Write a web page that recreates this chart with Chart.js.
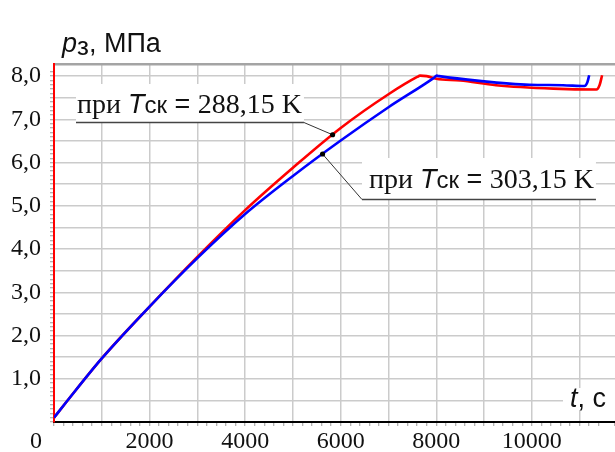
<!DOCTYPE html>
<html>
<head>
<meta charset="utf-8">
<script src="https://cdn.jsdelivr.net/npm/chart.js@4.4.0/dist/chart.umd.min.js"></script>
<style>
html, body { margin: 0; padding: 0; background: #fff; }
#wrap { width: 615px; height: 452px; }
</style>
</head>
<body>
<div id="wrap"><canvas id="pressureChart" width="615" height="452"></canvas></div>
<script>
// t, s  /  p, MPa
var T_288 = [0, 250, 1000, 2000, 3000, 4000, 5000, 6000, 7000, 7600, 7660, 7800, 8000, 8500, 9250, 10450, 11350, 11420, 11470];
var P_288 = [0.10, 0.45, 1.47, 2.67, 3.82, 4.90, 5.88, 6.80, 7.58, 7.98, 8.01, 8.00, 7.94, 7.90, 7.79, 7.71, 7.69, 7.80, 8.02];

var T_303 = [0, 250, 1000, 2000, 3000, 4000, 5000, 6000, 7000, 7950, 8010, 8060, 8900, 9950, 10650, 11100, 11160, 11200];
var P_303 = [0.10, 0.45, 1.47, 2.67, 3.79, 4.81, 5.69, 6.51, 7.28, 7.96, 8.01, 8.00, 7.89, 7.80, 7.79, 7.77, 7.85, 8.02];

var Y_TICK_LABELS = ['1,0', '2,0', '3,0', '4,0', '5,0', '6,0', '7,0', '8,0'];
var X_TICK_LABELS = ['2000', '4000', '6000', '8000', '10000'];

// times where the callouts touch the curves (288,15 K then 303,15 K)
var CALLOUT_T = [5830, 5620];

var GRID = '#cbcbcb';
var SERIF = '"Liberation Serif", "Times New Roman", serif';
var SANS = '"Liberation Sans", Arial, sans-serif';

function toPoints(ts, ps) {
    return ts.map(function (t, i) { return { x: t, y: ps[i] }; });
}

function valueAt(ts, ps, t) {
    for (var i = 1; i < ts.length; i++) {
        if (t <= ts[i]) return ps[i - 1] + (ps[i] - ps[i - 1]) * (t - ts[i - 1]) / (ts[i] - ts[i - 1]);
    }
    return ps[ps.length - 1];
}

function isStep(v, step) {
    var k = v / step;
    return Math.abs(k - Math.round(k)) < 1e-6;
}

function drawRuns(ctx, x, y, runs) {
    runs.forEach(function (r) {
        ctx.font = r[1];
        ctx.fillText(r[0], x, y + (r[2] || 0));
        x += ctx.measureText(r[0]).width;
    });
    return x;
}

var overlay = {
    id: 'overlay',
    afterDraw: function (chart) {
        var ctx = chart.ctx;
        var xs = chart.scales.x, ys = chart.scales.y;
        ctx.save();
        ctx.fillStyle = '#111';
        ctx.textAlign = 'left';
        ctx.textBaseline = 'alphabetic';

        // axis titles
        drawRuns(ctx, 62, 52, [['p', 'italic 27px ' + SANS], ['з', '26px ' + SANS, 3], [', МПа', '27px ' + SANS]]);
        ctx.fillStyle = '#fff';
        ctx.fillRect(563, 388, 52, 22);
        ctx.fillStyle = '#111';
        drawRuns(ctx, 570, 407, [['t', 'italic 27px ' + SANS], [', с', '27px ' + SANS]]);

        // origin label
        ctx.font = '24px ' + SERIF;
        ctx.textAlign = 'right';
        ctx.fillText('0', 42, 448);
        ctx.textAlign = 'left';

        // callouts
        var series = [[T_288, P_288], [T_303, P_303]];
        var labels = [
            { x: 77, y: 113, ux0: 76, uy: 122.5, value: '288,15 K', top: 84, side: 'end' },
            { x: 369, y: 188, ux0: 362, uy: 199.5, value: '303,15 K', top: 158, side: 'start' }
        ];
        labels.forEach(function (l, i) {
            var runs = [['при ', '28px ' + SERIF], ['T', 'italic 27px ' + SANS], ['ск', '24px ' + SANS], [' = ', '27px ' + SANS], [l.value, '28px ' + SERIF]];
            var w = 0;
            runs.forEach(function (r) { ctx.font = r[1]; w += ctx.measureText(r[0]).width; });
            var ux1 = l.x + w + 2;
            ctx.fillStyle = '#fff';
            ctx.fillRect(l.ux0, l.top, ux1 - l.ux0, l.uy - l.top);
            ctx.fillStyle = '#111';
            drawRuns(ctx, l.x, l.y, runs);

            ctx.strokeStyle = '#444';
            ctx.lineWidth = 1.5;
            ctx.beginPath();
            ctx.moveTo(l.ux0, l.uy);
            ctx.lineTo(ux1, l.uy);
            ctx.stroke();

            var t = CALLOUT_T[i];
            var px = xs.getPixelForValue(t);
            var py = ys.getPixelForValue(valueAt(series[i][0], series[i][1], t));
            ctx.strokeStyle = '#333';
            ctx.lineWidth = 1;
            ctx.beginPath();
            ctx.moveTo(l.side === 'end' ? ux1 : l.ux0, l.uy);
            ctx.lineTo(px, py);
            ctx.stroke();
            ctx.fillStyle = '#000';
            ctx.beginPath();
            ctx.arc(px, py, 2.6, 0, Math.PI * 2);
            ctx.fill();
        });
        ctx.restore();
    }
};

new Chart(document.getElementById('pressureChart'), {
    type: 'line',
    data: {
        datasets: [{
            label: 'при Tск = 303,15 K',
            data: toPoints(T_303, P_303),
            borderColor: '#0000ff',
            borderWidth: 2.6,
            pointRadius: 0,
            cubicInterpolationMode: 'monotone',
            fill: false
        }, {
            label: 'при Tск = 288,15 K',
            data: toPoints(T_288, P_288),
            borderColor: '#ff0000',
            borderWidth: 2.6,
            pointRadius: 0,
            cubicInterpolationMode: 'monotone',
            fill: false
        }]
    },
    options: {
        responsive: false,
        animation: false,
        devicePixelRatio: 1,
        layout: { padding: { top: 64, left: 0, right: 0, bottom: 0 } },
        plugins: { legend: { display: false }, tooltip: { enabled: false } },
        scales: {
            x: {
                type: 'linear',
                min: 0,
                max: 11740,
                afterFit: function (s) { s.height = 30; s.paddingLeft = 0; s.paddingRight = 0; },
                border: { color: '#000', width: 2 },
                grid: {
                    color: function (c) { return isStep(c.tick.value, 1000) ? GRID : 'rgba(0,0,0,0)'; },
                    lineWidth: 1.5,
                    tickColor: '#9a9a9a',
                    tickLength: 4,
                    tickWidth: 1
                },
                ticks: {
                    stepSize: 200,
                    autoSkip: false,
                    maxRotation: 0,
                    minRotation: 0,
                    padding: 1,
                    color: '#111',
                    font: { family: SERIF, size: 24 },
                    callback: function (v) {
                        if (v > 0 && isStep(v, 2000)) return X_TICK_LABELS[Math.round(v / 2000) - 1] || '';
                        return '';
                    }
                }
            },
            y: {
                min: 0,
                max: 8.28,
                afterFit: function (s) { s.width = 54; s.paddingTop = 0; s.paddingBottom = 0; },
                border: { color: '#ff0000', width: 2 },
                grid: {
                    color: function (c) {
                        if (Math.abs(c.tick.value - 8.28) < 1e-6) return '#a4a4a4';
                        return isStep(c.tick.value, 0.5) ? GRID : 'rgba(0,0,0,0)';
                    },
                    lineWidth: function (c) { return Math.abs(c.tick.value - 8.28) < 1e-6 ? 2.5 : 1.5; },
                    tickColor: function (c) { return Math.abs(c.tick.value - 8.28) < 1e-6 ? 'rgba(0,0,0,0)' : '#9a9a9a'; },
                    tickLength: 4,
                    tickWidth: 1
                },
                ticks: {
                    stepSize: 0.1,
                    autoSkip: false,
                    padding: 9,
                    color: '#111',
                    font: { family: SERIF, size: 24 },
                    callback: function (v) {
                        if (v > 0 && isStep(v, 1)) return Y_TICK_LABELS[Math.round(v) - 1] || '';
                        return '';
                    }
                }
            }
        }
    },
    plugins: [overlay]
});
</script>
</body>
</html>
